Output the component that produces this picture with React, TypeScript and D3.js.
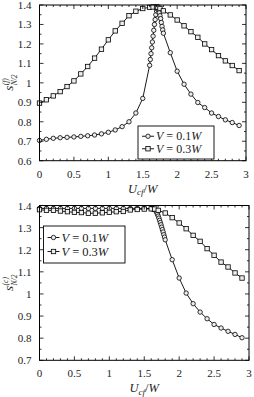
import React from 'react';
import * as d3 from 'd3';

// top panel, V = 0.1W (circles)
const topCircX = [0, 0.1, 0.2, 0.3, 0.4, 0.5, 0.6, 0.7, 0.8, 0.9, 1.0, 1.1, 1.2, 1.3, 1.4, 1.5,
  1.6, 1.61, 1.62, 1.63, 1.64, 1.65, 1.66, 1.67, 1.68, 1.69, 1.7, 1.71, 1.72, 1.73, 1.74, 1.75,
  1.76, 1.77, 1.78, 1.79, 1.8, 1.9, 2.0, 2.1, 2.2, 2.3, 2.4, 2.5, 2.6, 2.7, 2.8, 2.9];
const topCircY = [0.704, 0.71, 0.715, 0.718, 0.72, 0.722, 0.725, 0.728, 0.732, 0.738, 0.746, 0.758, 0.775, 0.8, 0.845, 0.92,
  1.09, 1.12, 1.15, 1.18, 1.21, 1.24, 1.27, 1.3, 1.325, 1.35, 1.37, 1.38, 1.383, 1.372, 1.36, 1.345,
  1.33, 1.31, 1.29, 1.272, 1.255, 1.155, 1.06, 0.993, 0.942, 0.899, 0.873, 0.845, 0.827, 0.81, 0.796, 0.781];

// top panel, V = 0.3W (squares)
const topSqX = [0, 0.1, 0.2, 0.3, 0.4, 0.5, 0.6, 0.7, 0.8, 0.9, 1.0, 1.1, 1.2, 1.3, 1.4, 1.5, 1.6,
  1.65, 1.7, 1.72, 1.75, 1.8, 1.9, 2.0, 2.1, 2.2, 2.3, 2.4, 2.5, 2.6, 2.7, 2.8, 2.9];
const topSqY = [0.896, 0.913, 0.933, 0.955, 0.981, 1.01, 1.046, 1.084, 1.127, 1.173, 1.221, 1.267, 1.306, 1.345, 1.368, 1.382, 1.388,
  1.39, 1.39, 1.388, 1.382, 1.37, 1.349, 1.323, 1.293, 1.263, 1.234, 1.2, 1.171, 1.14, 1.113, 1.089, 1.063];

// bottom panel, V = 0.1W (circles)
const botCircX = [0, 0.1, 0.2, 0.3, 0.4, 0.5, 0.6, 0.7, 0.8, 0.9, 1.0, 1.1, 1.2, 1.3, 1.4, 1.5,
  1.6, 1.61, 1.62, 1.63, 1.64, 1.65, 1.66, 1.67, 1.68, 1.69, 1.7, 1.71, 1.72, 1.73, 1.74, 1.75,
  1.76, 1.77, 1.78, 1.79, 1.8, 1.9, 2.0, 2.1, 2.2, 2.3, 2.4, 2.5, 2.6, 2.7, 2.8, 2.9];
const botCircY = [1.387, 1.387, 1.387, 1.387, 1.387, 1.387, 1.387, 1.387, 1.387, 1.387, 1.387, 1.387, 1.387, 1.387, 1.387, 1.387,
  1.386, 1.386, 1.385, 1.384, 1.383, 1.381, 1.378, 1.374, 1.368, 1.36, 1.352, 1.343, 1.333, 1.323, 1.313, 1.302,
  1.291, 1.28, 1.268, 1.257, 1.245, 1.155, 1.072, 1.004, 0.956, 0.918, 0.888, 0.862, 0.846, 0.831, 0.817, 0.802];

// bottom panel, V = 0.3W (squares)
const botSqX = [0, 0.1, 0.2, 0.3, 0.4, 0.5, 0.6, 0.7, 0.8, 0.9, 1.0, 1.1, 1.2, 1.3, 1.4, 1.5, 1.6,
  1.65, 1.7, 1.8, 1.9, 2.0, 2.1, 2.2, 2.3, 2.4, 2.5, 2.6, 2.7, 2.8, 2.9];
const botSqY = [1.381, 1.378, 1.378, 1.375, 1.372, 1.369, 1.368, 1.365, 1.365, 1.367, 1.369, 1.372, 1.373, 1.38, 1.382, 1.384, 1.385,
  1.384, 1.378, 1.366, 1.345, 1.321, 1.295, 1.265, 1.238, 1.205, 1.175, 1.144, 1.122, 1.095, 1.072];

const xMajor = [0, 0.5, 1, 1.5, 2, 2.5, 3];
const legendLabels = ['0.1', '0.3'];

const FONT = '"Liberation Serif", "DejaVu Serif", serif';

const fmt = (v) => String(+v.toFixed(2));

function Marker({ kind, x, y }) {
  if (kind === 'circle') {
    return <circle cx={x} cy={y} r={2.2} fill="#eee" stroke="#000" strokeWidth={0.8} />;
  }
  return <rect x={x - 2.2} y={y - 2.2} width={4.4} height={4.4} fill="#eee" stroke="#000" strokeWidth={0.8} />;
}

function Series({ xs, ys, sx, sy, kind }) {
  const pts = xs.map((x, i) => [sx(x), sy(ys[i])]);
  const line = d3.line()(pts);
  return (
    <g>
      <path d={line} fill="none" stroke="#000" strokeWidth={0.9} />
      {pts.map((p, i) => <Marker key={i} kind={kind} x={p[0]} y={p[1]} />)}
    </g>
  );
}

function Legend({ x, y, w, h, rowGap, fs }) {
  return (
    <g>
      <rect x={x} y={y} width={w} height={h} fill="#fff" stroke="#000" strokeWidth={0.9} />
      {legendLabels.map((lab, i) => {
        const cy = y + h / 2 + (i - 0.5) * rowGap;
        return (
          <g key={lab}>
            <line x1={x + 4} x2={x + 16} y1={cy} y2={cy} stroke="#000" strokeWidth={0.9} />
            <Marker kind={i === 0 ? 'circle' : 'square'} x={x + 10} y={cy} />
            <text x={x + 18} y={cy + fs * 0.33} fontSize={fs} fontFamily={FONT} fill="#222">
              <tspan fontStyle="italic">V</tspan>
              <tspan dx={3}>=</tspan>
              <tspan dx={3}>{lab}</tspan>
              <tspan fontStyle="italic">W</tspan>
            </text>
          </g>
        );
      })}
    </g>
  );
}

function Panel({ x0, x1, yTop, yBot, yMin, circX, circY, sqX, sqY, sup, legend }) {
  const sx = d3.scaleLinear().domain([0, 3]).range([x0, x1]);
  const sy = d3.scaleLinear().domain([yMin, 1.4]).range([yBot, yTop]);
  const xMinor = d3.range(0, 3.001, 0.1);
  const yMajor = d3.range(yMin, 1.4001, 0.1);
  const yMinor = d3.range(yMin, 1.4001, 0.05);
  const isMajorX = (v) => Math.abs(v * 2 - Math.round(v * 2)) < 1e-6;
  const isMajorY = (v) => Math.abs(v * 10 - Math.round(v * 10)) < 1e-6;
  const midY = (yTop + yBot) / 2;
  const midX = (x0 + x1) / 2;
  return (
    <g>
      <Series xs={circX} ys={circY} sx={sx} sy={sy} kind="circle" />
      <Series xs={sqX} ys={sqY} sx={sx} sy={sy} kind="square" />
      <rect x={x0} y={yTop} width={x1 - x0} height={yBot - yTop} fill="none" stroke="#000" strokeWidth={1} />
      {xMinor.map((v) => {
        const L = isMajorX(v) ? 4 : 2;
        const px = sx(v);
        return (
          <g key={'x' + v}>
            <line x1={px} x2={px} y1={yBot} y2={yBot - L} stroke="#000" strokeWidth={0.8} />
            <line x1={px} x2={px} y1={yTop} y2={yTop + L} stroke="#000" strokeWidth={0.8} />
          </g>
        );
      })}
      {yMinor.map((v) => {
        const L = isMajorY(v) ? 4 : 2;
        const py = sy(v);
        return (
          <g key={'y' + v}>
            <line x1={x0} x2={x0 + L} y1={py} y2={py} stroke="#000" strokeWidth={0.8} />
            <line x1={x1} x2={x1 - L} y1={py} y2={py} stroke="#000" strokeWidth={0.8} />
          </g>
        );
      })}
      {xMajor.map((v) => (
        <text key={'xl' + v} x={sx(v)} y={yBot + 17} textAnchor="middle" fontSize={11} fontFamily={FONT} fill="#222">
          {fmt(v)}
        </text>
      ))}
      {yMajor.map((v) => (
        <text key={'yl' + v} x={x0 - 8} y={sy(v) + 4} textAnchor="end" fontSize={11} fontFamily={FONT} fill="#222">
          {fmt(v)}
        </text>
      ))}
      <text x={midX} y={yBot + 32} textAnchor="middle" fontSize={12.5} fontFamily={FONT} fill="#222">
        <tspan fontStyle="italic">U</tspan>
        <tspan fontStyle="italic" fontSize={9} dy={2.5}>cf</tspan>
        <tspan dy={-2.5}>/</tspan>
        <tspan fontStyle="italic">W</tspan>
      </text>
      <g transform={`translate(13,${midY + 8}) rotate(-90)`} fontFamily={FONT} fill="#222">
        <text x={0} y={0} fontSize={13} fontStyle="italic">s</text>
        <text x={5.5} y={-5} fontSize={7.5} fontStyle="italic">{sup}</text>
        <text x={5.5} y={4} fontSize={7.5} fontStyle="italic">N/2</text>
      </g>
      <Legend {...legend} />
    </g>
  );
}

export default function App() {
  return (
    <svg width={254} height={397} style={{ position: 'absolute', left: 0, top: 0, background: '#fff' }}>
      <Panel
        x0={39.5} x1={246} yTop={5} yBot={160.7} yMin={0.6}
        circX={topCircX} circY={topCircY} sqX={topSqX} sqY={topSqY}
        sup="(f)"
        legend={{ x: 138, y: 126, w: 76, h: 33, rowGap: 12.5, fs: 12 }}
      />
      <Panel
        x0={39.5} x1={249} yTop={205.5} yBot={360.3} yMin={0.7}
        circX={botCircX} circY={botCircY} sqX={botSqX} sqY={botSqY}
        sup="(c)"
        legend={{ x: 43.5, y: 226, w: 81.5, h: 37, rowGap: 14, fs: 12.5 }}
      />
    </svg>
  );
}
